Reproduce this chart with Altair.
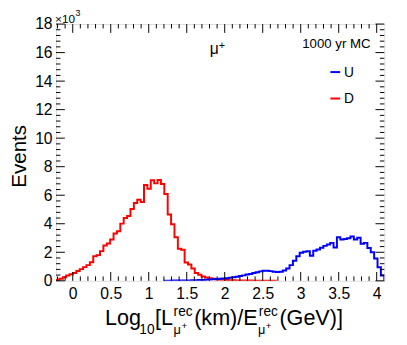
import altair as alt
import pandas as pd

# ---------------- data (counts in units of 10^3) ----------------
X_DOMAIN = [-0.22, 4.1]
N_BINS = 97
BIN_START = X_DOMAIN[0]
BIN_WIDTH = (X_DOMAIN[1] - X_DOMAIN[0]) / N_BINS

red_first_bin = 0
red_counts = [0.05, 0.14, 0.25, 0.37, 0.46, 0.55, 0.69, 0.82, 0.96, 1.10,
              1.30, 1.72, 1.80, 2.08, 2.47, 2.61, 2.89, 3.32, 3.48, 4.01,
              4.40, 4.54, 5.04, 5.45, 5.68, 5.52, 6.71, 6.45, 7.05, 6.83,
              7.06, 6.78, 6.09, 4.65, 3.96, 3.05, 2.25, 2.18, 1.28, 1.15,
              0.87, 0.55, 0.43, 0.30, 0.23, 0.18, 0.14, 0.11, 0.08, 0.07,
              0.05, 0.04, 0.04, 0.03, 0.03, 0.02, 0.02, 0.02, 0.01, 0.01,
              0.01, 0.01, 0.01, 0.005, 0.005]

blue_first_bin = 32
blue_counts = [0.01, 0.01, 0.02, 0.02, 0.02, 0.03, 0.03, 0.03, 0.04, 0.04,
               0.05, 0.06, 0.08, 0.09, 0.11, 0.12, 0.14, 0.16, 0.18, 0.21,
               0.25, 0.29, 0.33, 0.38, 0.44, 0.48, 0.55, 0.60, 0.66, 0.70,
               0.71, 0.68, 0.63, 0.62, 0.63, 0.72, 0.87, 1.10, 1.40, 1.72,
               1.97, 2.04, 2.07, 1.76, 2.10, 2.20, 2.32, 2.45, 2.55, 2.66,
               2.33, 3.05, 2.90, 2.93, 2.98, 3.10, 2.90, 3.02, 2.60, 2.66,
               2.30, 2.00, 1.56, 0.95, 0.37]

x_major = [0, 0.5, 1, 1.5, 2, 2.5, 3, 3.5, 4]
x_minor = [-0.2, -0.1, 0.1, 0.2, 0.3, 0.4, 0.6, 0.7, 0.8, 0.9, 1.1, 1.2, 1.3, 1.4,
           1.6, 1.7, 1.8, 1.9, 2.1, 2.2, 2.3, 2.4, 2.6, 2.7, 2.8, 2.9, 3.1, 3.2,
           3.3, 3.4, 3.6, 3.7, 3.8, 3.9]
y_major = [0, 2, 4, 6, 8, 10, 12, 14, 16, 18]
y_minor = [v / 10 for v in range(0, 181, 4) if v % 20 != 0]

Y_DOMAIN = [0, 18]
W, H = 335, 262
FONT = "Liberation Sans"


def outline(first, counts):
    rows = []
    e0 = BIN_START + first * BIN_WIDTH
    rows.append({"x": e0, "y": 0.0})
    for i, c in enumerate(counts):
        rows.append({"x": BIN_START + (first + i) * BIN_WIDTH, "y": c})
    end = BIN_START + (first + len(counts)) * BIN_WIDTH
    rows.append({"x": end, "y": counts[-1]})
    rows.append({"x": end, "y": 0.0})
    df = pd.DataFrame(rows)
    df["o"] = range(len(df))
    return df


xs = alt.Scale(domain=X_DOMAIN, nice=False, zero=False)
ys = alt.Scale(domain=Y_DOMAIN, nice=False, zero=False)
XAX = alt.Axis(values=x_major, labelExpr="datum.value + ''", ticks=False, domain=False,
               grid=False, title=None, labelFont=FONT, labelFontSize=16,
               labelColor="black", labelPadding=5)
YAX = alt.Axis(values=y_major, labelExpr="datum.value + ''", ticks=False, domain=False,
               grid=False, title=None, labelFont=FONT, labelFontSize=16,
               labelColor="black", labelPadding=4)


def hist(df, color):
    return alt.Chart(df).mark_line(interpolate="step-after", color=color,
                                   strokeWidth=2, clip=True).encode(
        x=alt.X("x:Q", scale=xs, axis=XAX),
        y=alt.Y("y:Q", scale=ys, axis=YAX),
        order="o:Q",
    )


red = hist(outline(red_first_bin, red_counts), "#ff0000")
blue = hist(outline(blue_first_bin, blue_counts), "#0000ff")


def xticks(vals, length):
    d = pd.DataFrame({"v": vals})
    b = alt.Chart(d).mark_rule(color="black", strokeWidth=1).encode(
        x=alt.X("v:Q", scale=xs, axis=XAX), y=alt.value(H - length), y2=alt.value(H))
    t = alt.Chart(d).mark_rule(color="black", strokeWidth=1).encode(
        x=alt.X("v:Q", scale=xs, axis=XAX), y=alt.value(0), y2=alt.value(length))
    return [b, t]


def yticks(vals, length):
    d = pd.DataFrame({"v": vals})
    l = alt.Chart(d).mark_rule(color="black", strokeWidth=1).encode(
        y=alt.Y("v:Q", scale=ys, axis=YAX), x=alt.value(0), x2=alt.value(length))
    r = alt.Chart(d).mark_rule(color="black", strokeWidth=1).encode(
        y=alt.Y("v:Q", scale=ys, axis=YAX), x=alt.value(W - length), x2=alt.value(W))
    return [l, r]


ticks = xticks(x_major, 9) + xticks(x_minor, 4.5) + yticks(y_major, 9) + yticks(y_minor, 4.5)


def txt(s, x, y, size, align="left", angle=0, color="black"):
    kw = dict(text=s, font=FONT, fontSize=size, align=align, baseline="alphabetic", color=color)
    if angle:
        kw["angle"] = angle
    return alt.Chart().mark_text(**kw).encode(x=alt.value(x), y=alt.value(y))


def seg(x1, x2, y, color):
    return alt.Chart().mark_rule(color=color, strokeWidth=2).encode(
        x=alt.value(x1), x2=alt.value(x2), y=alt.value(y))


# plot origin is at page (57, 21)
texts = [
    txt("×10", -1, -1, 12),
    txt("3", 20, -8, 9),
    txt("Events", -31, 135, 21, align="center", angle=270),
    txt("μ", 157, 31, 16),
    txt("+", 166, 25, 11),
    txt("1000 yr MC", 321, 24, 13.5, align="right"),
    seg(280, 290, 49, "#0000ff"),
    txt("U", 294, 54, 14),
    seg(280, 290, 76, "#ff0000"),
    txt("D", 294, 81, 14),
    # x title pieces
    txt("Log", 50, 307, 22),
    txt("10", 85, 316, 14),
    txt("[L", 101, 307, 22),
    txt("rec", 120, 298, 14),
    txt("μ", 120, 316, 13),
    txt("+", 128, 311, 10),
    txt("(km)/E", 141, 307, 22),
    txt("rec", 207, 298, 14),
    txt("μ", 206, 316, 13),
    txt("+", 214, 311, 10),
    txt("(GeV)]", 228, 307, 22),
]

chart = alt.layer(red, blue, *ticks, *texts).properties(
    width=W, height=H,
    autosize=alt.AutoSizeParams(type="none"),
    padding={"left": 49, "top": 13, "right": 15, "bottom": 56},
).configure_view(stroke="black", strokeWidth=1).configure(background="white")

chart.save("out.html", embed_options={"renderer": "svg", "actions": False})
